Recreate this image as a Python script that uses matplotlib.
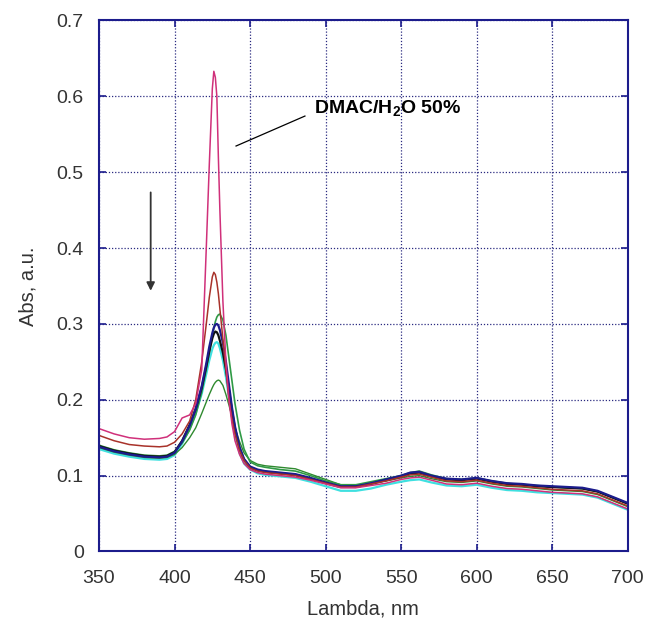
import numpy as np
import matplotlib.pyplot as plt

plt.rcParams['font.family'] = ['Liberation Sans', 'DejaVu Sans']
plt.rcParams['mathtext.fontset'] = 'custom'
plt.rcParams['mathtext.rm'] = 'Liberation Sans'
plt.rcParams['mathtext.bf'] = 'Liberation Sans:bold'

# wavelength grid (nm)
wl = [350, 360, 370, 380, 390, 395, 400, 405, 410, 414,
      418, 421, 423, 425, 426, 427, 428, 429, 430, 432,
      434, 436, 438, 440, 443, 446, 450, 455, 460, 470,
      480, 490, 500, 510, 520, 530, 540, 550, 556, 562,
      570, 580, 590, 600, 610, 620, 630, 640, 650, 660,
      670, 680, 690, 700]

magenta = [0.162, 0.155, 0.150, 0.148, 0.149, 0.151, 0.158, 0.176, 0.180, 0.195,
           0.240, 0.400, 0.510, 0.610, 0.633, 0.625, 0.600, 0.520, 0.450, 0.330,
           0.250, 0.200, 0.168, 0.146, 0.128, 0.116, 0.108, 0.104, 0.102, 0.100,
           0.098, 0.094, 0.089, 0.084, 0.084, 0.087, 0.090, 0.095, 0.097, 0.098,
           0.094, 0.089, 0.088, 0.090, 0.086, 0.083, 0.082, 0.080, 0.078, 0.077,
           0.076, 0.072, 0.064, 0.056]

brown = [0.153, 0.146, 0.141, 0.139, 0.138, 0.139, 0.144, 0.155, 0.172, 0.200,
         0.250, 0.300, 0.335, 0.362, 0.368, 0.365, 0.355, 0.340, 0.320, 0.280,
         0.240, 0.200, 0.175, 0.155, 0.133, 0.120, 0.110, 0.106, 0.104, 0.102,
         0.100, 0.095, 0.090, 0.085, 0.085, 0.089, 0.093, 0.098, 0.101, 0.102,
         0.098, 0.093, 0.092, 0.094, 0.090, 0.087, 0.086, 0.084, 0.082, 0.081,
         0.080, 0.076, 0.068, 0.060]

dkgreen = [0.140, 0.134, 0.130, 0.127, 0.126, 0.127, 0.132, 0.143, 0.160, 0.180,
           0.210, 0.240, 0.262, 0.285, 0.295, 0.303, 0.309, 0.312, 0.313, 0.305,
           0.285, 0.255, 0.225, 0.195, 0.160, 0.135, 0.118, 0.113, 0.111, 0.108,
           0.106, 0.100, 0.093, 0.088, 0.088, 0.092, 0.096, 0.100, 0.104, 0.106,
           0.101, 0.096, 0.095, 0.097, 0.093, 0.090, 0.088, 0.087, 0.085, 0.084,
           0.083, 0.079, 0.071, 0.063]

navy = [0.138, 0.132, 0.128, 0.125, 0.124, 0.125, 0.130, 0.145, 0.166, 0.188,
        0.218, 0.248, 0.270, 0.288, 0.295, 0.299, 0.300, 0.298, 0.292, 0.275,
        0.250, 0.220, 0.190, 0.165, 0.138, 0.122, 0.112, 0.108, 0.106, 0.104,
        0.102, 0.097, 0.091, 0.086, 0.086, 0.090, 0.095, 0.100, 0.104, 0.105,
        0.100, 0.096, 0.095, 0.097, 0.093, 0.090, 0.089, 0.087, 0.086, 0.085,
        0.084, 0.080, 0.072, 0.064]

black = [0.139, 0.133, 0.129, 0.126, 0.125, 0.126, 0.131, 0.146, 0.167, 0.188,
         0.216, 0.244, 0.264, 0.281, 0.287, 0.290, 0.289, 0.285, 0.278, 0.262,
         0.240, 0.213, 0.186, 0.162, 0.136, 0.121, 0.111, 0.107, 0.105, 0.103,
         0.101, 0.096, 0.090, 0.085, 0.085, 0.089, 0.094, 0.099, 0.103, 0.104,
         0.099, 0.095, 0.094, 0.096, 0.092, 0.089, 0.088, 0.086, 0.085, 0.084,
         0.083, 0.079, 0.071, 0.063]

cyan = [0.135, 0.129, 0.125, 0.122, 0.121, 0.122, 0.127, 0.142, 0.162, 0.182,
        0.208, 0.234, 0.252, 0.267, 0.272, 0.275, 0.276, 0.274, 0.268, 0.252,
        0.230, 0.204, 0.178, 0.155, 0.130, 0.116, 0.108, 0.103, 0.101, 0.099,
        0.097, 0.092, 0.086, 0.080, 0.080, 0.083, 0.088, 0.092, 0.094, 0.095,
        0.091, 0.087, 0.086, 0.088, 0.084, 0.081, 0.080, 0.078, 0.077, 0.076,
        0.075, 0.071, 0.063, 0.055]

green = [0.137, 0.131, 0.127, 0.124, 0.123, 0.124, 0.128, 0.137, 0.150, 0.163,
         0.182, 0.197, 0.207, 0.216, 0.220, 0.223, 0.225, 0.226, 0.225, 0.219,
         0.207, 0.193, 0.178, 0.163, 0.145, 0.130, 0.120, 0.115, 0.113, 0.111,
         0.109, 0.102, 0.095, 0.088, 0.087, 0.090, 0.093, 0.097, 0.099, 0.100,
         0.096, 0.092, 0.091, 0.093, 0.089, 0.086, 0.085, 0.083, 0.081, 0.080,
         0.079, 0.075, 0.067, 0.059]

series = [
    (cyan, "#3fe0e0", 1.6),
    (green, "#2f8a2f", 1.0),
    (dkgreen, "#2f9a45", 1.2),
    (black, "#111111", 1.6),
    (navy, "#1c1c8c", 1.6),
    (brown, "#a8322a", 1.1),
    (magenta, "#d0307a", 1.1),
]

fig = plt.figure(figsize=(6.48, 6.24), dpi=100)
ax = fig.add_axes([0.1528, 0.1162, 0.816, 0.851])

for vals, col, lw in series:
    ax.plot(wl, vals, color=col, lw=lw)

ax.set_xlim(350, 700)
ax.set_ylim(0, 0.7)
ax.set_xticks(np.arange(350, 701, 50))
ax.set_yticks([0, 0.1, 0.2, 0.3, 0.4, 0.5, 0.6, 0.7])
ax.set_yticklabels(["0", "0.1", "0.2", "0.3", "0.4", "0.5", "0.6", "0.7"])
ax.grid(True, color="#2a2a80", linestyle=(0, (1, 1.5)), lw=0.9)

for s in ax.spines.values():
    s.set_color("#1c1c8c")
    s.set_linewidth(1.5)
ax.tick_params(direction="in", length=5, width=1.2, color="#1c1c8c",
               top=True, right=True, labelsize=14, labelcolor="#333333")
ax.tick_params(axis="x", pad=13)
ax.tick_params(axis="y", pad=11)

ax.set_xlabel("Lambda, nm", fontsize=14.5, color="#333333", labelpad=9)
ax.set_ylabel("Abs, a.u.", fontsize=14.5, color="#333333", labelpad=14)

# arrow showing decrease
ax.annotate("", xy=(384.2, 0.340), xytext=(384.2, 0.477),
            arrowprops=dict(arrowstyle="-|>", color="#333333", lw=1.3,
                            mutation_scale=12))

# label with pointer line
ax.plot([440.7, 486.3], [0.5345, 0.574], color="black", lw=0.9)
ax.text(492.5, 0.5777, r"DMAC/H$_{\mathbf{2}}$O 50%", fontsize=14,
        fontweight="bold", va="baseline", ha="left")

fig.savefig("out.png", dpi=100)
